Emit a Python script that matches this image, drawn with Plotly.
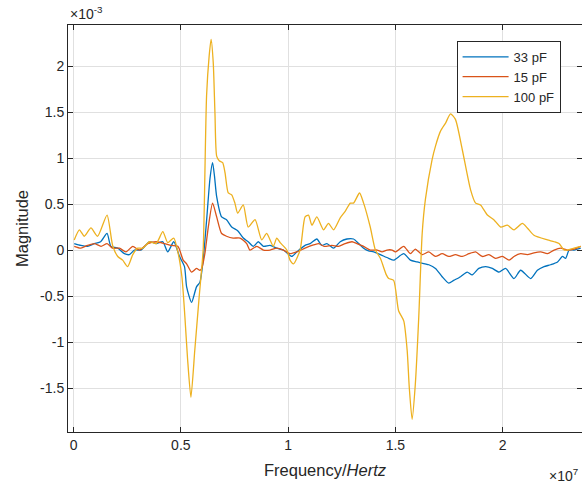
import plotly.graph_objects as go

# Frequency in units of 1e7 Hz, magnitude in units of 1e-3
freq_100pF = [0.003, 0.027, 0.050, 0.081, 0.112, 0.156, 0.182, 0.206, 0.229, 0.252, 0.276, 0.299,
              0.322, 0.354, 0.385, 0.416, 0.439, 0.467, 0.486, 0.505, 0.519, 0.531, 0.547, 0.565,
              0.584, 0.604, 0.609, 0.620, 0.632, 0.641, 0.651, 0.659, 0.667, 0.679, 0.695, 0.706,
              0.721, 0.737, 0.752, 0.765, 0.791, 0.814, 0.846, 0.877, 0.900, 0.931, 0.947, 0.963,
              0.994, 1.009, 1.025, 1.056, 1.079, 1.095, 1.111, 1.134, 1.165, 1.188, 1.212, 1.243,
              1.266, 1.290, 1.305, 1.333, 1.352, 1.383, 1.407, 1.430, 1.458, 1.469, 1.492, 1.515,
              1.539, 1.555, 1.565, 1.578, 1.593, 1.609, 1.625, 1.640, 1.671, 1.687, 1.710, 1.734,
              1.757, 1.780, 1.812, 1.850, 1.874, 1.897, 1.929, 1.959, 1.991, 2.022, 2.053, 2.092,
              2.115, 2.146, 2.209, 2.240, 2.263, 2.286, 2.302, 2.333, 2.364]
mag_100pF = [0.11, 0.22, 0.15, 0.24, 0.15, 0.38, 0.05, -0.07, -0.11, -0.18, -0.05, 0.02,
             0.02, 0.09, 0.07, 0.20, 0.08, 0.13, -0.02, -0.29, -0.73, -1.17, -1.60, -1.09,
             -0.55, 0.00, 0.44, 1.68, 2.11, 2.29, 2.04, 1.49, 1.02, 0.97, 0.95, 0.84,
             0.62, 0.60, 0.51, 0.40, 0.49, 0.25, 0.33, 0.11, 0.18, 0.04, 0.13, 0.08,
             0.00, -0.11, -0.15, 0.00, 0.36, 0.38, 0.27, 0.36, 0.22, 0.29, 0.22, 0.35,
             0.42, 0.51, 0.51, 0.62, 0.51, 0.25, 0.00, -0.09, -0.27, -0.31, -0.33, -0.66,
             -0.77, -1.09, -1.50, -1.84, -1.46, -0.73, 0.18, 0.55, 0.98, 1.13, 1.29, 1.38,
             1.48, 1.42, 1.09, 0.66, 0.51, 0.49, 0.38, 0.33, 0.25, 0.27, 0.22, 0.29,
             0.24, 0.16, 0.11, 0.09, 0.07, 0.00, 0.00, 0.02, 0.04]

freq_33pF = [0.003, 0.034, 0.065, 0.097, 0.126, 0.156, 0.174, 0.206, 0.237, 0.260, 0.284, 0.314,
             0.354, 0.385, 0.416, 0.439, 0.467, 0.494, 0.517, 0.527, 0.550, 0.573, 0.589, 0.604,
             0.621, 0.636, 0.648, 0.657, 0.667, 0.690, 0.713, 0.737, 0.765, 0.791, 0.814, 0.838,
             0.861, 0.885, 0.916, 0.947, 0.978, 1.017, 1.041, 1.079, 1.103, 1.134, 1.157, 1.181,
             1.212, 1.243, 1.274, 1.305, 1.329, 1.352, 1.375, 1.399, 1.430, 1.469, 1.492, 1.539,
             1.570, 1.601, 1.656, 1.687, 1.718, 1.749, 1.772, 1.804, 1.835, 1.858, 1.889, 1.921,
             1.952, 1.983, 2.014, 2.053, 2.084, 2.131, 2.162, 2.193, 2.224, 2.256, 2.279, 2.294,
             2.310, 2.333, 2.364]
mag_33pF = [0.07, 0.05, 0.04, 0.07, 0.09, 0.18, 0.04, 0.02, -0.04, -0.05, 0.00, 0.00,
            0.09, 0.07, 0.09, -0.02, 0.09, -0.07, -0.18, -0.40, -0.57, -0.40, -0.35, -0.11,
            0.35, 0.78, 0.95, 0.80, 0.58, 0.36, 0.33, 0.25, 0.21, 0.13, 0.09, 0.04,
            0.09, 0.04, 0.05, 0.02, 0.00, -0.07, -0.02, 0.05, 0.07, 0.12, 0.05, 0.07,
            0.02, 0.09, 0.12, 0.12, 0.07, 0.02, -0.01, -0.02, -0.05, -0.09, -0.11, -0.04,
            -0.11, -0.13, -0.16, -0.20, -0.29, -0.36, -0.33, -0.29, -0.24, -0.27, -0.20, -0.18,
            -0.20, -0.24, -0.20, -0.31, -0.22, -0.31, -0.22, -0.18, -0.16, -0.13, -0.07, -0.09,
            0.00, 0.00, 0.02]

freq_15pF = [0.003, 0.034, 0.065, 0.097, 0.128, 0.156, 0.182, 0.214, 0.244, 0.276, 0.307, 0.346,
             0.385, 0.424, 0.455, 0.486, 0.511, 0.527, 0.550, 0.573, 0.589, 0.597, 0.612, 0.628,
             0.648, 0.667, 0.690, 0.713, 0.744, 0.776, 0.807, 0.822, 0.854, 0.885, 0.916, 0.947,
             0.978, 1.009, 1.041, 1.079, 1.111, 1.142, 1.168, 1.204, 1.235, 1.266, 1.298, 1.321,
             1.352, 1.383, 1.415, 1.438, 1.461, 1.485, 1.500, 1.539, 1.570, 1.593, 1.625, 1.656,
             1.687, 1.718, 1.749, 1.780, 1.812, 1.843, 1.874, 1.905, 1.936, 1.967, 1.999, 2.030,
             2.053, 2.084, 2.115, 2.146, 2.178, 2.209, 2.240, 2.271, 2.302, 2.333, 2.364]
mag_15pF = [0.04, 0.02, 0.05, 0.07, 0.04, 0.07, 0.02, 0.02, -0.02, 0.04, 0.00, 0.07,
            0.09, 0.07, 0.05, 0.04, -0.11, -0.15, -0.24, -0.20, -0.22, -0.20, -0.04, 0.25,
            0.51, 0.36, 0.18, 0.15, 0.13, 0.13, 0.07, 0.00, 0.04, 0.00, 0.00, 0.02,
            0.00, -0.04, -0.02, 0.02, 0.05, 0.07, 0.04, 0.05, 0.04, 0.07, 0.09, 0.07,
            0.04, 0.00, 0.00, -0.02, 0.00, 0.00, -0.02, 0.04, -0.04, 0.01, -0.05, -0.02,
            -0.07, -0.04, -0.07, -0.05, -0.07, -0.04, -0.02, -0.07, -0.05, -0.09, -0.07, -0.11,
            -0.07, -0.04, -0.05, -0.03, -0.02, -0.04, 0.00, 0.02, 0.00, 0.01, 0.04]

series_names = ["33 pF", "15 pF", "100 pF"]
series_colors = ["#0072BD", "#D95319", "#EDB120"]

x_tickvals = [0, 0.5, 1, 1.5, 2]
x_ticktext = ["0", "0.5", "1", "1.5", "2"]
y_tickvals = [-1.5, -1, -0.5, 0, 0.5, 1, 1.5, 2]
y_ticktext = ["-1.5", "-1", "-0.5", "0", "0.5", "1", "1.5", "2"]

FONT = "Liberation Sans, Arial, sans-serif"
AX = "#262626"

fig = go.Figure()
for name, color, xs, ys in zip(series_names, series_colors,
                               [freq_33pF, freq_15pF, freq_100pF],
                               [mag_33pF, mag_15pF, mag_100pF]):
    fig.add_trace(go.Scatter(x=xs, y=ys, mode="lines", name=name,
                             line=dict(color=color, width=1.3, shape="spline", smoothing=0.6)))

axis_common = dict(showline=True, linecolor=AX, linewidth=1, mirror="ticks",
                   ticks="inside", ticklen=5, tickcolor=AX, tickwidth=1,
                   showgrid=True, gridcolor="#e0e0e0", gridwidth=1, zeroline=False,
                   automargin=False,
                   tickfont=dict(family=FONT, size=14, color=AX))

fig.update_layout(
    width=582, height=486,
    margin=dict(l=68, r=0, t=25, b=54, autoexpand=False),
    paper_bgcolor="white", plot_bgcolor="white",
    font=dict(family=FONT, color=AX),
    xaxis=dict(range=[-0.026, 2.37], tickvals=x_tickvals, ticktext=x_ticktext,
               title=dict(text="Frequency/<i>Hertz</i>", font=dict(family=FONT, size=16.5, color=AX), standoff=12),
               **axis_common),
    yaxis=dict(range=[-1.978, 2.446], tickvals=y_tickvals, ticktext=y_ticktext,
               title=dict(text="Magnitude", font=dict(family=FONT, size=16.5, color=AX), standoff=7),
               **axis_common),
    legend=dict(x=0.756, y=0.961, xanchor="left", yanchor="top",
                bgcolor="white", bordercolor=AX, borderwidth=1, itemwidth=46,
                font=dict(family=FONT, size=13, color=AX), tracegroupgap=0),
    showlegend=True,
)

fig.add_annotation(text="×10<sup>-3</sup>", xref="paper", yref="paper", x=0, y=1,
                   xanchor="left", yanchor="bottom", showarrow=False, yshift=1,
                   font=dict(family=FONT, size=14, color=AX))
fig.add_annotation(text="×10<sup>7</sup>", xref="paper", yref="paper", x=1, y=0,
                   xanchor="right", yanchor="top", showarrow=False, yshift=-32, xshift=-2,
                   font=dict(family=FONT, size=14, color=AX))

fig.write_html("out.html", config={"displayModeBar": False},
               post_script="document.body.style.margin='0px';document.body.style.overflow='hidden';")
